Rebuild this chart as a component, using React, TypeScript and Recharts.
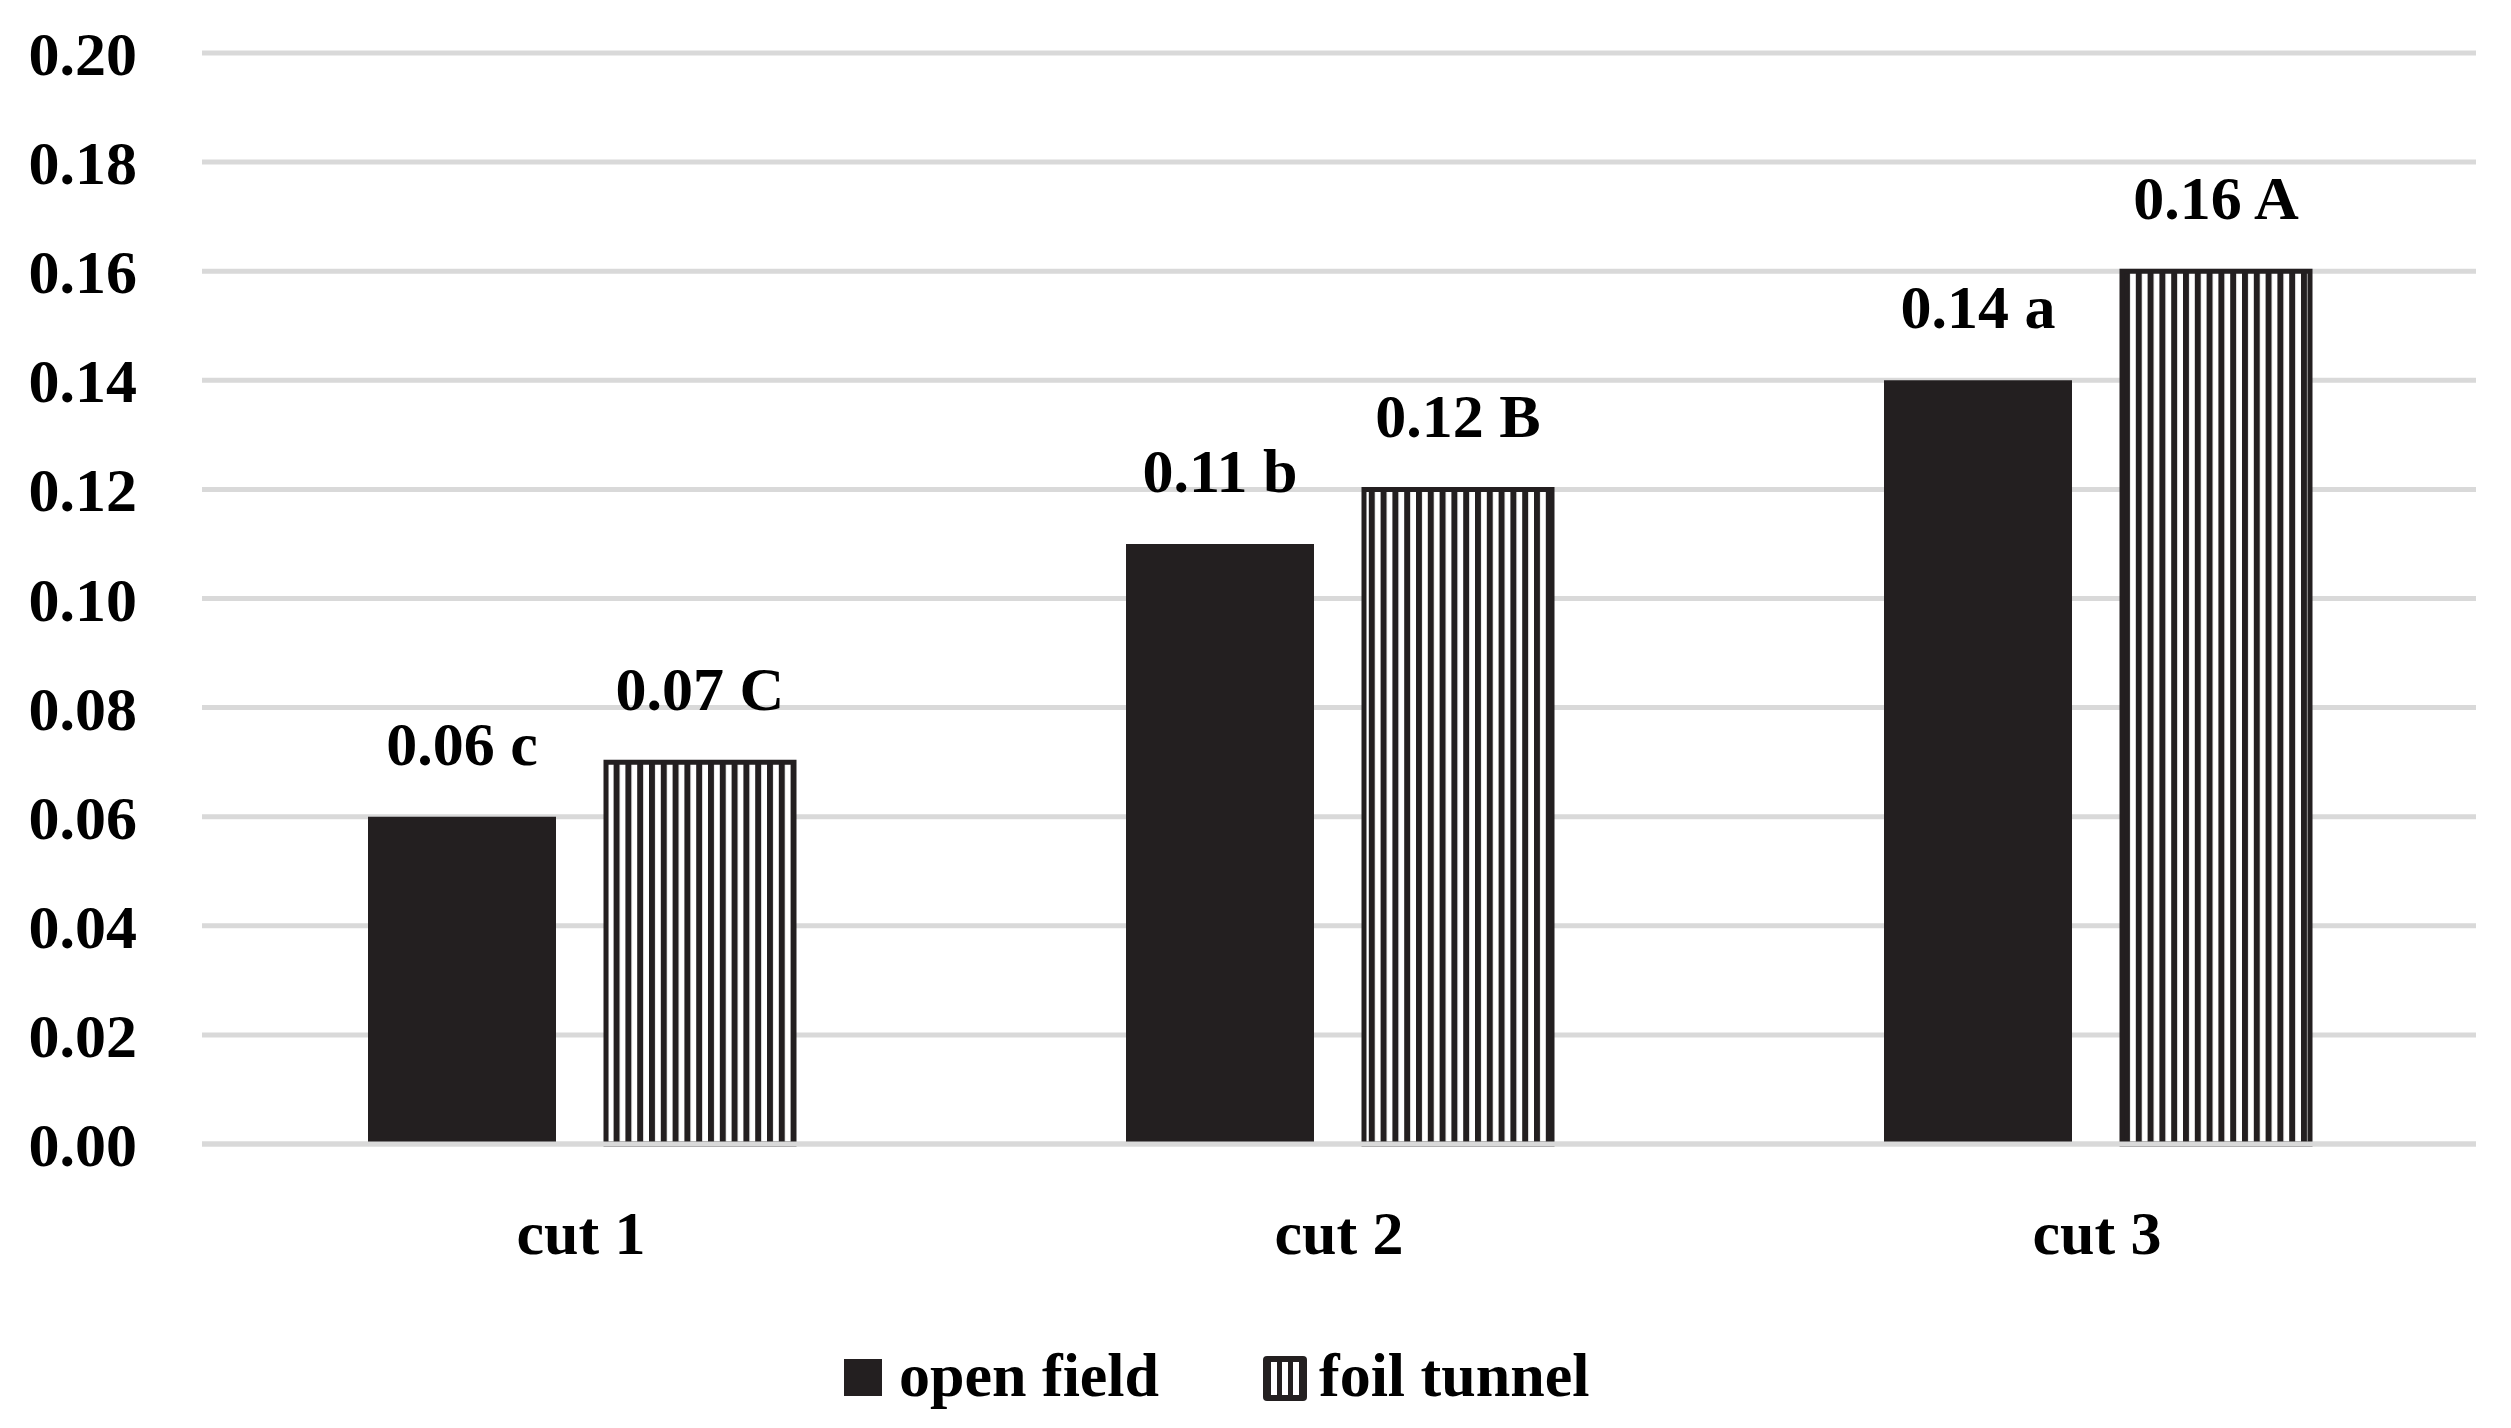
import React from 'react';
import { BarChart, Bar, XAxis, YAxis, CartesianGrid, Legend, LabelList } from 'recharts';

const categories = ['cut 1', 'cut 2', 'cut 3'];
const openField = [0.06, 0.11, 0.14];
const foilTunnel = [0.07, 0.12, 0.16];
const openLetters = ['c', 'b', 'a'];
const foilLetters = ['C', 'B', 'A'];
const seriesNames = ['open field', 'foil tunnel'];
const yTicks = [0, 0.02, 0.04, 0.06, 0.08, 0.1, 0.12, 0.14, 0.16, 0.18, 0.2];

const data = categories.map((cut, i) => ({
  cut,
  open: openField[i],
  foil: foilTunnel[i],
  openLabel: `${openField[i].toFixed(2)} ${openLetters[i]}`,
  foilLabel: `${foilTunnel[i].toFixed(2)} ${foilLetters[i]}`,
}));

const FONT = '"Liberation Serif", "Times New Roman", serif';
const DARK = '#231f20';
const GRID = '#d9d9d9';

const LegendIcon = ({ kind }: { kind: string }) => {
  if (kind === 'open') {
    return (
      <svg width={38} height={37} style={{ display: 'inline-block', verticalAlign: 'baseline', marginRight: 17 }}>
        <rect x={0} y={0} width={38} height={37} fill={DARK} />
      </svg>
    );
  }
  return (
    <svg width={44} height={45} style={{ display: 'inline-block', verticalAlign: -5, marginRight: 12 }}>
      <rect x={0} y={0} width={44} height={45} rx={4} ry={4} fill={DARK} />
      <rect x={8} y={6} width={6} height={33} fill="#fff" />
      <rect x={19} y={6} width={6} height={33} fill="#fff" />
      <rect x={30} y={6} width={6} height={33} fill="#fff" />
    </svg>
  );
};

const itemWidths = [419, 380];

const CustomLegend = (props: any) => {
  const payload = [...(props.payload || [])].sort(
    (a: any, b: any) => seriesNames.indexOf(a.value) - seriesNames.indexOf(b.value)
  );
  return (
    <div
      style={{
        height: 80,
        lineHeight: '80px',
        whiteSpace: 'nowrap',
        paddingLeft: 844,
        fontFamily: FONT,
        fontWeight: 'bold',
        fontSize: 62,
        color: '#000',
        textAlign: 'left',
      }}
    >
      {payload.map((entry: any, i: number) => (
        <span key={i} style={{ display: 'inline-block', width: itemWidths[i] }}>
          <LegendIcon kind={entry.dataKey} />
          <span>{entry.value}</span>
        </span>
      ))}
    </div>
  );
};

export default function App() {
  return (
    <div style={{ position: 'absolute', left: 0, top: 0, width: 2511, height: 1428, background: '#fff' }}>
      <BarChart
        width={2511}
        height={1428}
        data={data}
        margin={{ top: 53, right: 35, bottom: 13, left: 0 }}
        barSize={188}
        barGap={50}
        style={{ fontFamily: FONT }}
      >
        <defs>
          <pattern id="foilStripes" patternUnits="userSpaceOnUse" x={0} y={0} width={11.8} height={20}>
            <rect x={0} y={0} width={11.8} height={20} fill="#fff" />
            <rect x={0} y={0} width={6} height={20} fill={DARK} />
          </pattern>
        </defs>
        <CartesianGrid vertical={false} stroke={GRID} strokeWidth={5} />
        <XAxis
          dataKey="cut"
          axisLine={{ stroke: GRID, strokeWidth: 5 }}
          tickLine={false}
          tickSize={0}
          tickMargin={66}
          height={191}
          tick={{ fill: '#000', fontSize: 62, fontWeight: 'bold', fontFamily: FONT }}
        />
        <YAxis
          domain={[0, 0.2]}
          ticks={yTicks}
          tickFormatter={(v: number) => v.toFixed(2)}
          axisLine={false}
          tickLine={false}
          tickSize={0}
          tickMargin={65}
          width={202}
          tick={{ fill: '#000', fontSize: 62, fontWeight: 'bold', fontFamily: FONT }}
        />
        <Legend verticalAlign="bottom" align="left" itemSorter={null as any} content={<CustomLegend />} />
        <Bar dataKey="open" name={seriesNames[0]} fill={DARK} isAnimationActive={false}>
          <LabelList
            dataKey="openLabel"
            position="top"
            offset={52}
            fill="#000"
            fontSize={62}
            fontWeight="bold"
            fontFamily={FONT}
          />
        </Bar>
        <Bar
          dataKey="foil"
          name={seriesNames[1]}
          fill="url(#foilStripes)"
          stroke={DARK}
          strokeWidth={5}
          isAnimationActive={false}
        >
          <LabelList
            dataKey="foilLabel"
            position="top"
            offset={52}
            fill="#000"
            fontSize={62}
            fontWeight="bold"
            fontFamily={FONT}
          />
        </Bar>
      </BarChart>
    </div>
  );
}
